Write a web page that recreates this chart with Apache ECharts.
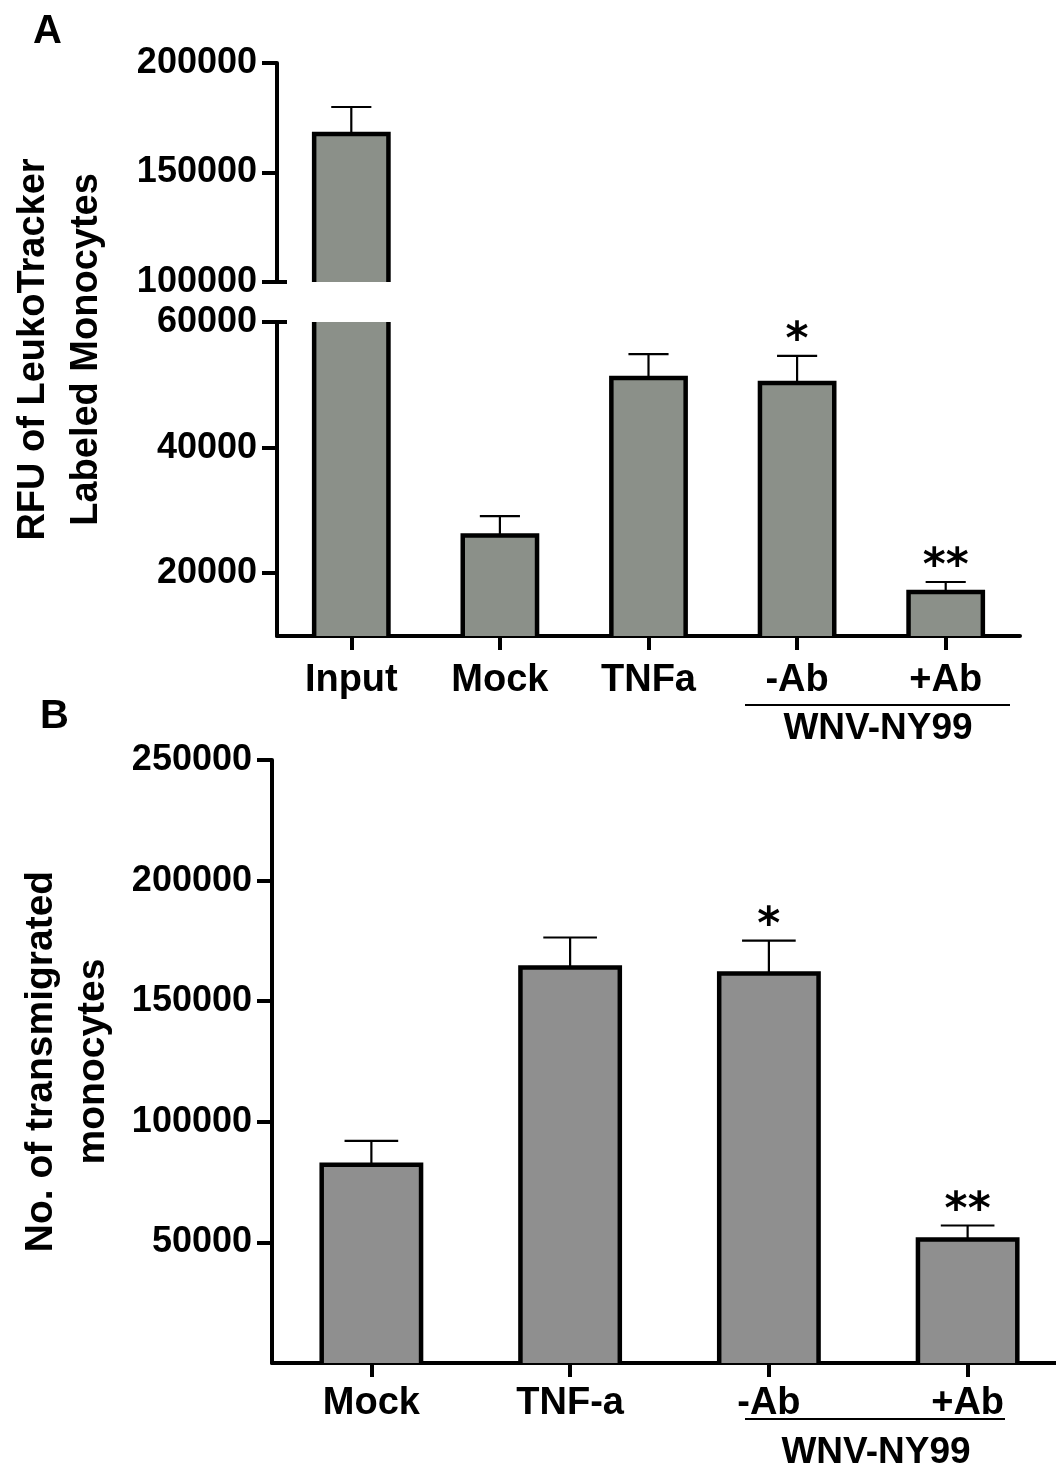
<!DOCTYPE html>
<html>
<head>
<meta charset="utf-8">
<script src="https://cdn.jsdelivr.net/npm/echarts@6/dist/echarts.min.js"></script>
<style>
html,body{margin:0;padding:0;background:#fff;overflow:hidden;}
#main{width:1070px;height:1473px;}
</style>
</head>
<body>
<div id="main"></div>
<script>
// ---- data ----
const catsA = ['Input', 'Mock', 'TNFa', '-Ab', '+Ab'];
const meanA = [167600, 26000, 51100, 50300, 17000];
const errA  = [12300, 3100, 3800, 4300, 1600];
const sigA  = ['', '', '', '*', '**'];

const catsB = ['Mock', 'TNF-a', '-Ab', '+Ab'];
const meanB = [82200, 164000, 161500, 51200];
const errB  = [9900, 12400, 13600, 5800];
const sigB  = ['', '', '*', '**'];

const ticksATop = [100000, 150000, 200000];
const ticksABottom = [20000, 40000, 60000];
const ticksB = [50000, 100000, 150000, 200000, 250000];

const FONT = 'Liberation Sans, Arial, Helvetica, sans-serif';
const fillA = '#8b9089';
const fillB = '#8f8f8f';

function barItem(fill) {
  return function (params, api) {
    const cs = params.coordSys;
    const i = api.value(0), v = api.value(1);
    const bw = api.size([1, 0])[0] * 0.5;
    const c = api.coord([i, v]);
    const bottom = cs.y + cs.height;
    if (c[1] >= bottom - 0.5) return null;
    const clipped = c[1] < cs.y;
    const yTop = clipped ? cs.y : c[1];
    const l = c[0] - bw / 2, r = c[0] + bw / 2;
    const ls = { stroke: '#000', lineWidth: 4.5, fill: null };
    const children = [{ type: 'rect', shape: { x: l, y: yTop, width: bw, height: bottom - yTop }, style: { fill: fill } }];
    if (clipped) {
      children.push({ type: 'line', shape: { x1: l, y1: yTop, x2: l, y2: bottom }, style: ls });
      children.push({ type: 'line', shape: { x1: r, y1: yTop, x2: r, y2: bottom }, style: ls });
    } else {
      children.push({ type: 'polyline', shape: { points: [[l, bottom], [l, yTop], [r, yTop], [r, bottom]] }, style: ls });
    }
    return { type: 'group', children: children };
  };
}

function errItem(sigs) {
  return function (params, api) {
    const cs = params.coordSys;
    const i = api.value(0), v = api.value(1), e = api.value(2);
    const base = api.coord([i, v]);
    const top = api.coord([i, v + e]);
    if (base[1] < cs.y - 0.5 || base[1] > cs.y + cs.height + 0.5) return null;
    const bw = api.size([1, 0])[0] * 0.5;
    const hw = bw * 0.27;
    const ls = { stroke: '#000', lineWidth: 2.2 };
    const children = [
      { type: 'line', shape: { x1: base[0], y1: base[1], x2: top[0], y2: top[1] }, style: ls },
      { type: 'line', shape: { x1: top[0] - hw, y1: top[1], x2: top[0] + hw, y2: top[1] }, style: ls }
    ];
    const s = sigs[params.dataIndex];
    if (s) {
      children.push({ type: 'text', x: top[0], y: top[1] + 8,
        style: { text: s, fontSize: 44, fontWeight: 'bold', fontFamily: 'DejaVu Sans', fill: '#000',
                 align: 'center', verticalAlign: 'bottom' } });
    }
    return { type: 'group', children: children };
  };
}

const plain = v => String(v);
const axisLineStyle = { show: true, lineStyle: { color: '#000', width: 4 } };
const yTick = { show: true, inside: false, length: 15, lineStyle: { color: '#000', width: 4 } };
const xTick = { show: true, alignWithLabel: true, length: 14, lineStyle: { color: '#000', width: 4 } };
const yLabel = { show: true, color: '#000', fontSize: 36, fontWeight: 'bold', fontFamily: FONT, margin: 20, formatter: plain };
const xLabel = { show: true, color: '#000', fontSize: 38, fontWeight: 'bold', fontFamily: FONT, margin: 26 };

const dataA = catsA.map((c, i) => [i, meanA[i], errA[i]]);
const dataB = catsB.map((c, i) => [i, meanB[i], errB[i]]);

const option = {
  backgroundColor: '#fff',
  animation: false,
  grid: [
    { left: 277, width: 743, top: 63, height: 219, outerBoundsMode: 'none', containLabel: false },   // A upper segment
    { left: 277, width: 743, top: 322, height: 314, outerBoundsMode: 'none', containLabel: false },  // A lower segment
    { left: 272, width: 795, top: 760, height: 603, outerBoundsMode: 'none', containLabel: false },  // B
    { left: 277, width: 743, top: 63, height: 573, outerBoundsMode: 'none', containLabel: false }    // A axis title holder
  ],
  xAxis: [
    { type: 'category', gridIndex: 0, data: catsA, show: false },
    { type: 'category', gridIndex: 1, data: catsA, axisLine: axisLineStyle, axisTick: xTick, axisLabel: xLabel, splitLine: { show: false } },
    { type: 'category', gridIndex: 2, data: catsB, axisLine: axisLineStyle, axisTick: xTick, axisLabel: Object.assign({}, xLabel, { margin: 22 }), splitLine: { show: false } },
    { type: 'category', gridIndex: 3, data: catsA, show: false }
  ],
  yAxis: [
    { type: 'value', gridIndex: 0, min: 100000, max: 200000, interval: 50000,
      axisLine: axisLineStyle, axisTick: Object.assign({}, yTick, { customValues: ticksATop }),
      axisLabel: Object.assign({}, yLabel, { customValues: ticksATop }), splitLine: { show: false } },
    { type: 'value', gridIndex: 1, min: 10000, max: 60000,
      axisLine: axisLineStyle, axisTick: Object.assign({}, yTick, { customValues: ticksABottom }),
      axisLabel: Object.assign({}, yLabel, { customValues: ticksABottom }), splitLine: { show: false } },
    { type: 'value', gridIndex: 2, min: 0, max: 250000,
      axisLine: axisLineStyle, axisTick: Object.assign({}, yTick, { customValues: ticksB }),
      axisLabel: Object.assign({}, yLabel, { customValues: ticksB }), splitLine: { show: false },
      name: 'No. of transmigrated\nmonocytes', nameLocation: 'middle', nameRotate: 90, nameGap: 153,
      nameTextStyle: { color: '#000', fontSize: 39, fontWeight: 'bold', fontFamily: FONT, lineHeight: 52 } },
    { type: 'value', gridIndex: 3, min: 0, max: 1,
      axisLine: { show: false }, axisTick: { show: false }, axisLabel: { show: false }, splitLine: { show: false },
      name: 'RFU of LeukoTracker\nLabeled Monocytes', nameLocation: 'middle', nameRotate: 90, nameGap: 164,
      nameTextStyle: { color: '#000', fontSize: 38, fontWeight: 'bold', fontFamily: FONT, lineHeight: 53 } }
  ],
  series: [
    { type: 'custom', xAxisIndex: 0, yAxisIndex: 0, data: dataA, renderItem: barItem(fillA), clip: false },
    { type: 'custom', xAxisIndex: 1, yAxisIndex: 1, data: dataA, renderItem: barItem(fillA), clip: false },
    { type: 'custom', xAxisIndex: 0, yAxisIndex: 0, data: dataA, renderItem: errItem(sigA), clip: false, z: 3 },
    { type: 'custom', xAxisIndex: 1, yAxisIndex: 1, data: dataA, renderItem: errItem(sigA), clip: false, z: 3 },
    { type: 'custom', xAxisIndex: 2, yAxisIndex: 2, data: dataB, renderItem: barItem(fillB), clip: false },
    { type: 'custom', xAxisIndex: 2, yAxisIndex: 2, data: dataB, renderItem: errItem(sigB), clip: false, z: 3 }
  ],
  graphic: [
    { type: 'text', left: 33, top: 12, style: { text: 'A', fontSize: 40, fontWeight: 'bold', fontFamily: FONT, fill: '#000' } },
    { type: 'text', left: 40, top: 697, style: { text: 'B', fontSize: 40, fontWeight: 'bold', fontFamily: FONT, fill: '#000' } },
    // axis-break marks
    { type: 'line', shape: { x1: 277, y1: 282, x2: 287, y2: 282 }, style: { stroke: '#000', lineWidth: 4 } },
    { type: 'line', shape: { x1: 277, y1: 322, x2: 287, y2: 322 }, style: { stroke: '#000', lineWidth: 4 } },
    // group brackets
    { type: 'line', shape: { x1: 745, y1: 705, x2: 1010, y2: 705 }, style: { stroke: '#000', lineWidth: 2 } },
    { type: 'text', x: 878, y: 729, style: { text: 'WNV-NY99', fontSize: 37, fontWeight: 'bold', fontFamily: FONT, fill: '#000', align: 'center', verticalAlign: 'middle' } },
    { type: 'line', shape: { x1: 745, y1: 1419, x2: 1005, y2: 1419 }, style: { stroke: '#000', lineWidth: 2 } },
    { type: 'text', x: 876, y: 1453, style: { text: 'WNV-NY99', fontSize: 37, fontWeight: 'bold', fontFamily: FONT, fill: '#000', align: 'center', verticalAlign: 'middle' } }
  ]
};

const chart = echarts.init(document.getElementById('main'), null, { renderer: 'canvas' });
chart.setOption(option);
</script>
</body>
</html>
